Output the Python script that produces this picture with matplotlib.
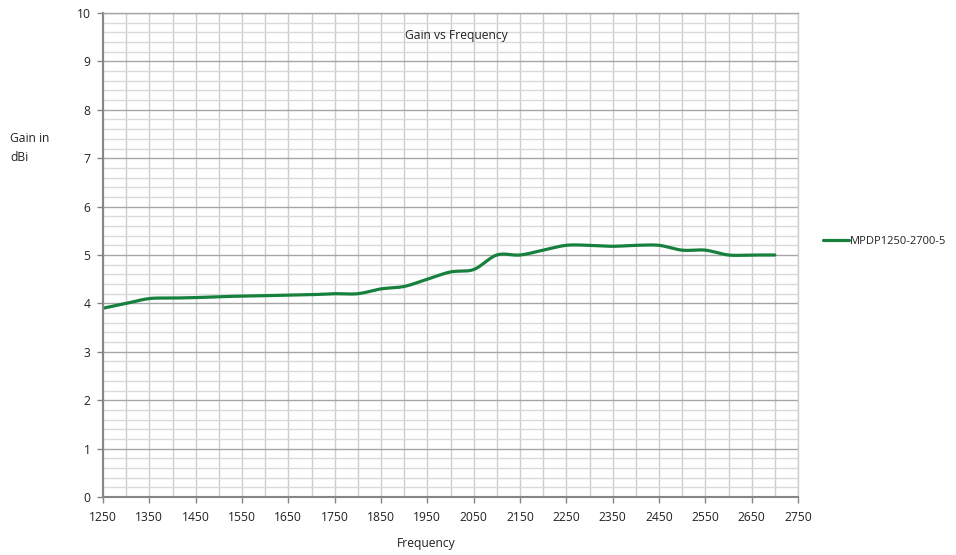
import numpy as np
import matplotlib
matplotlib.use("Agg")
import matplotlib.pyplot as plt
from matplotlib.ticker import MultipleLocator, FixedLocator

freq = [1250, 1300, 1350, 1400, 1450, 1500, 1550, 1600, 1650, 1700, 1750, 1800,
        1850, 1900, 1950, 2000, 2050, 2100, 2150, 2200, 2250, 2300, 2350, 2400,
        2450, 2500, 2550, 2600, 2650, 2700]
gain = [3.90, 4.00, 4.10, 4.11, 4.12, 4.14, 4.15, 4.16, 4.17, 4.18, 4.20, 4.20,
        4.30, 4.35, 4.50, 4.65, 4.70, 5.00, 5.00, 5.10, 5.20, 5.20, 5.18, 5.20,
        5.20, 5.10, 5.10, 5.00, 5.00, 5.00]
series_name = "MPDP1250-2700-5"
x_ticks = [1250, 1350, 1450, 1550, 1650, 1750, 1850, 1950, 2050, 2150, 2250,
           2350, 2450, 2550, 2650, 2750]
y_ticks = [0, 1, 2, 3, 4, 5, 6, 7, 8, 9, 10]


def smooth(xs, ys, n=30):
    xs = np.asarray(xs, float)
    ys = np.asarray(ys, float)
    px = np.concatenate([[xs[0]], xs, [xs[-1]]])
    py = np.concatenate([[ys[0]], ys, [ys[-1]]])
    ox, oy = [], []
    t = np.linspace(0, 1, n, endpoint=False)
    for i in range(1, len(px) - 2):
        p0 = np.array([px[i], py[i]])
        p3 = np.array([px[i + 1], py[i + 1]])
        p1 = p0 + (np.array([px[i + 1], py[i + 1]]) - np.array([px[i - 1], py[i - 1]])) / 6
        p2 = p3 - (np.array([px[i + 2], py[i + 2]]) - np.array([px[i], py[i]])) / 6
        b = ((1 - t) ** 3)[:, None] * p0 + (3 * (1 - t) ** 2 * t)[:, None] * p1 + \
            (3 * (1 - t) * t ** 2)[:, None] * p2 + (t ** 3)[:, None] * p3
        ox.extend(b[:, 0]); oy.extend(b[:, 1])
    ox.append(xs[-1]); oy.append(ys[-1])
    return np.array(ox), np.array(oy)


FS = 8.7
plt.rcParams['font.family'] = ['Open Sans', 'DejaVu Sans']
fig = plt.figure(figsize=(9.56, 5.55), dpi=100)
ax = fig.add_axes([103 / 956, 58 / 555, 695 / 956, 484 / 555])

ax.set_xlim(1250, 2750)
ax.set_ylim(0, 10)

# grid
ax.xaxis.set_major_locator(FixedLocator(x_ticks))
ax.xaxis.set_minor_locator(MultipleLocator(50))
ax.yaxis.set_major_locator(FixedLocator(y_ticks))
ax.yaxis.set_minor_locator(MultipleLocator(0.2))
ax.grid(which='minor', axis='x', color='#cdcdcd', linewidth=1.0)
ax.grid(which='major', axis='x', color='#cdcdcd', linewidth=1.0)
ax.grid(which='minor', axis='y', color='#d9d9d9', linewidth=1.0)
ax.grid(which='major', axis='y', color='#a6a6a6', linewidth=1.0)
ax.set_axisbelow(True)

ax.tick_params(which='minor', length=0)
ax.tick_params(which='major', direction='out', length=4, width=1, color='#868686',
               labelsize=FS, labelcolor='#222222')
ax.tick_params(axis='x', pad=6)
ax.tick_params(axis='y', pad=5)

for s in ['top', 'right']:
    ax.spines[s].set_color('#cdcdcd')
    ax.spines[s].set_linewidth(1.0)
ax.spines['top'].set_color('#a6a6a6')
for s in ['left', 'bottom']:
    ax.spines[s].set_color('#868686')
    ax.spines[s].set_linewidth(1.5)

sx, sy = smooth(freq, gain)
ax.plot(sx, sy, color='#17803d', linewidth=2.3, solid_capstyle='round',
        label=series_name)

fig.text(456 / 956, 1 - 35 / 555, "Gain vs Frequency",
         ha='center', va='center', fontsize=FS, color='#222222')
fig.text(426 / 956, 1 - 543 / 555, "Frequency", ha='center', va='center',
         fontsize=FS, color='#222222')
fig.text(10 / 956, 1 - 148 / 555, "Gain in\ndBi", ha='left', va='center',
         fontsize=FS, color='#222222', linespacing=1.6)

fig.legend(loc='center left', bbox_to_anchor=(813 / 956, 1 - 241 / 555),
           frameon=False, fontsize=8, handlelength=2.3, handletextpad=0.1,
           labelcolor='#222222')

fig.savefig("out.png", dpi=100)
